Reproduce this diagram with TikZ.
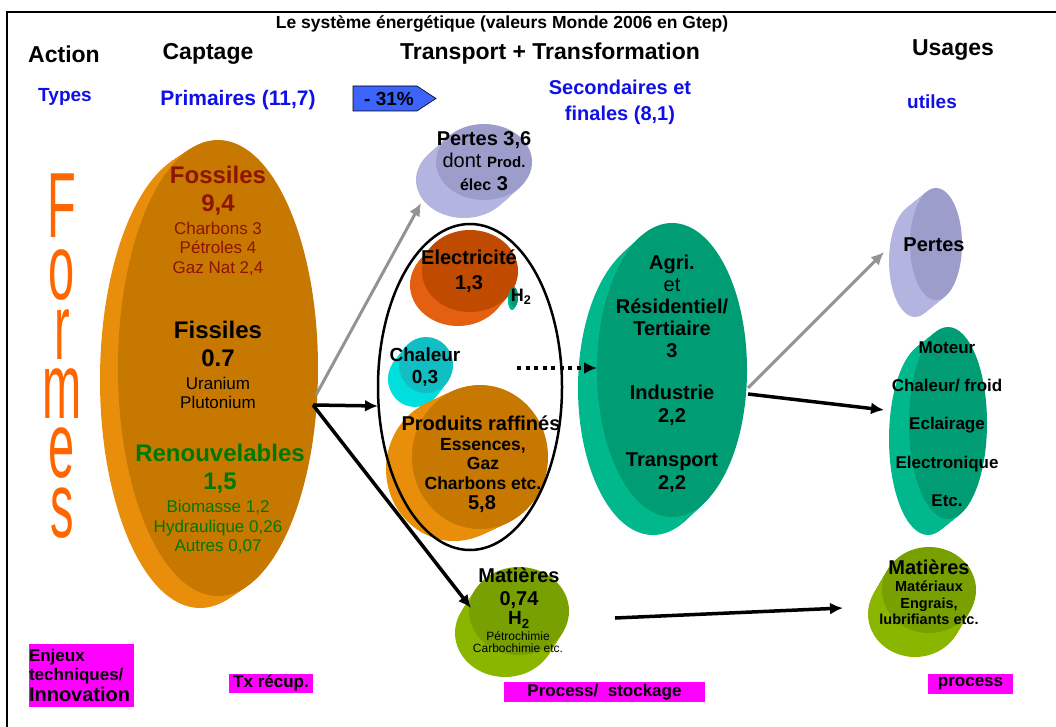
\documentclass[tikz,border=0pt]{standalone}
\usepackage{fontspec}
\setmainfont{Liberation Sans}
\usetikzlibrary{arrows.meta,calc}
\definecolor{orFace}{RGB}{198,120,0}
\definecolor{orRim}{RGB}{232,142,10}
\definecolor{lavFace}{RGB}{157,157,204}
\definecolor{lavRim}{RGB}{180,180,224}
\definecolor{elFace}{RGB}{192,74,0}
\definecolor{elRim}{RGB}{226,96,16}
\definecolor{cyFace}{RGB}{16,190,196}
\definecolor{cyRim}{RGB}{0,222,222}
\definecolor{vertFace}{RGB}{0,156,116}
\definecolor{vertRim}{RGB}{0,184,140}
\definecolor{olFace}{RGB}{120,160,0}
\definecolor{olRim}{RGB}{138,182,0}
\definecolor{bleuT}{RGB}{16,16,230}
\definecolor{rougeT}{RGB}{140,20,0}
\definecolor{vertT}{RGB}{0,120,0}
\definecolor{flecheB}{RGB}{60,100,250}
\definecolor{formes}{RGB}{255,102,0}
\definecolor{rose}{RGB}{255,0,255}

\begin{document}
\begin{tikzpicture}[x=1pt,y=-1pt,
  gras/.style 2 args={font=\bfseries\fontsize{#1}{#2}\selectfont,align=center,inner sep=0},
  maigre/.style 2 args={font=\fontsize{#1}{#2}\selectfont,align=center,inner sep=0},
  fl/.style={line width=3.5pt,-{Latex[length=13pt,width=12pt]}},
  fg/.style={fl,draw=gray!85,line width=3pt},
  mag/.style={fill=rose,inner sep=0,font=\bfseries\fontsize{17}{19}\selectfont}]
 \useasboundingbox (0,0) rectangle (1056,727);
 \draw[line width=2pt] (7,727) -- (7,12.5) -- (1056,12.5);
 % disques : centre, rayons, decalage du bord, couleurs
 \foreach \cx/\cy/\rx/\ry/\dx/\dy/\fc/\rc in {218/368/100/228/-18/12/orFace/orRim,
   484/162/48/38/-20/18/lavFace/lavRim, 470/271/48/41/-12/14/elFace/elRim,
   514/297/4/10/-2/3/vertFace/vertRim, 426/365/27/28/-11/14/cyFace/cyRim,
   480/457/68/72/-26/12/orFace/orRim, 519/611/50/44/-14/22/olFace/olRim,
   672/370/75/147/-19/18/vertFace/vertRim, 936/244/26/56/-21/17/lavFace/lavRim,
   948/423/39/96/-20/16/vertFace/vertRim, 929/590/47/43/-14/24/olFace/olRim}{
  \foreach \t in {16,...,1}{\fill[\rc] ({\cx+\t*\dx/16},{\cy+\t*\dy/16}) ellipse [x radius=\rx pt,y radius=\ry pt];}
  \fill[\fc] (\cx,\cy) ellipse [x radius=\rx pt,y radius=\ry pt];
 }
 \draw[line width=2.5pt] (470,387) ellipse [x radius=92pt,y radius=163pt];
 % titres
 \node[gras={17.5}{20}] (titre) at (502,23.5) {Le système énergétique (valeurs Monde 2006 en Gtep)};
 \node[gras={23}{26}] (action) at (64,54) {Action};
 \node[gras={23}{26}] (captage) at (208,54) {Captage};
 \node[gras={23}{26}] (transp) at (550,54) {Transport + Transformation};
 \node[gras={23}{26}] (usages) at (953,50) {Usages};
 \node[gras={19}{22},text=bleuT] (types) at (65,97) {Types};
 \node[gras={21}{24},text=bleuT] (prim) at (238,100) {Primaires (11,7)};
 \node[gras={20}{26},text=bleuT] (second) at (620,102) {Secondaires et\\finales (8,1)};
 \node[gras={19}{22},text=bleuT] (utiles) at (932,102) {utiles};
 \fill[flecheB,draw=black,line width=0.6pt] (353,86) -- (417,86) -- (436,98.5) -- (417,111) -- (353,111) -- cycle;
 \node[gras={19}{20}] (pct) at (389,98.5) {- 31\%};
 \foreach \l/\y in {F/206,o/275,r/335,m/394,e/453,s/513}
  \node[text=formes,font=\fontsize{47}{47}\selectfont,inner sep=0] (forme\l) at (62,\y) {\scalebox{1}[1.97]{\l}};
 % captage
 \node[gras={24}{28},text=rougeT] (fos) at (218,191) {Fossiles\\9,4};
 \node[maigre={17}{19.5},text=rougeT] (fosd) at (218,248.5) {Charbons 3\\Pétroles 4\\Gaz Nat 2,4};
 \node[gras={24}{28}] (fis) at (218,344) {Fissiles\\0.7};
 \node[maigre={17}{19}] (fisd) at (218,392.5) {Uranium\\Plutonium};
 \node[gras={24}{28},text=vertT] (ren) at (220,469) {Renouvelables\\1,5};
 \node[maigre={17}{19.5},text=vertT] (rend) at (218,527) {Biomasse 1,2\\Hydraulique 0,26\\Autres 0,07};
 % transformation
 \node[gras={20}{22.5}] (pertes) at (484,161) {Pertes 3,6\\{\mdseries dont} {\fontsize{15}{22.5}\selectfont Prod.}\\{\fontsize{16}{22.5}\selectfont élec} 3};
 \node[gras={20}{25}] (elec) at (469,271) {Electricité\\1,3};
 \node[gras={18}{20}] (hdeux) at (521,297) {H\textsubscript{2}};
 \node[gras={19}{22}] (chal) at (425,367) {Chaleur\\0,3};
 \node[gras={20}{22}] (prod) at (481,423) {Produits raffinés};
 \node[gras={17.5}{19.5}] (prodd) at (483,464) {Essences,\\Gaz\\Charbons etc.};
 \node[gras={20}{22}] (prodv) at (482,504) {5,8};
 \node[gras={20}{23}] (mat) at (519,588) {Matières\\0,74};
 \node[gras={19}{20}] (mathd) at (519,620) {H\textsubscript{2}};
 \node[maigre={12}{12.5}] (matd) at (518,642) {Pétrochimie\\Carbochimie etc.};
 \node[gras={20}{22}] (secteur) at (672,306) {Agri.\\{\mdseries et}\\Résidentiel/\\Tertiaire\\3};
 \node[gras={20}{23}] (indus) at (672,405) {Industrie\\2,2};
 \node[gras={20}{23}] (trans) at (672,473) {Transport\\2,2};
 % usages
 \node[gras={20}{22}] (pertesu) at (934,245) {Pertes};
 \node[gras={17}{38.3}] (usa) at (947,424) {Moteur\\Chaleur/ froid\\Eclairage\\Electronique\\Etc.};
 \node[gras={20}{22}] (matu) at (929,567) {Matières};
 \node[gras={14.5}{16.5}] (matud) at (929,603) {Matériaux\\Engrais,\\lubrifiants etc.};
 % enjeux
 \node[mag,minimum width=105pt,minimum height=63pt,text width=105pt,align=left] (enjeux) at (81.5,675.5) {Enjeux\\techniques/\\[2pt]{\fontsize{20}{21}\selectfont Innovation}};
 \node[mag,minimum width=84pt,minimum height=19pt] (txrec) at (271,683.5) {Tx récup.};
 \node[mag,minimum width=201pt,minimum height=20pt] (procst) at (604.5,692) {Process/\ \ stockage};
 \node[mag,minimum width=85pt,minimum height=20pt] (proc) at (970.5,684) {process};
 % fleches
 \coordinate (captG) at (316,395); \coordinate (pertesE) at (421,203);
 \coordinate (captN) at (313,405); \coordinate (ellE) at (378,406); \coordinate (matE) at (471,608);
 \coordinate (ellS) at (517,368); \coordinate (vertE) at (597,368);
 \coordinate (vertG) at (748,388); \coordinate (pertesuE) at (884,252);
 \coordinate (vertN) at (748,394); \coordinate (usaE) at (884,410);
 \coordinate (matS) at (615,618); \coordinate (matuE) at (843,608);
 \draw[fg] (captG) -- (pertesE);
 \draw[fl] (captN) -- (ellE);
 \draw[fl] (captN) -- (matE);
 \draw[fl,dash pattern=on 4pt off 4.5pt] (ellS) -- (vertE);
 \draw[fg] (vertG) -- (pertesuE);
 \draw[fl] (vertN) -- (usaE);
 \draw[fl] (matS) -- (matuE);
\end{tikzpicture}
\end{document}
